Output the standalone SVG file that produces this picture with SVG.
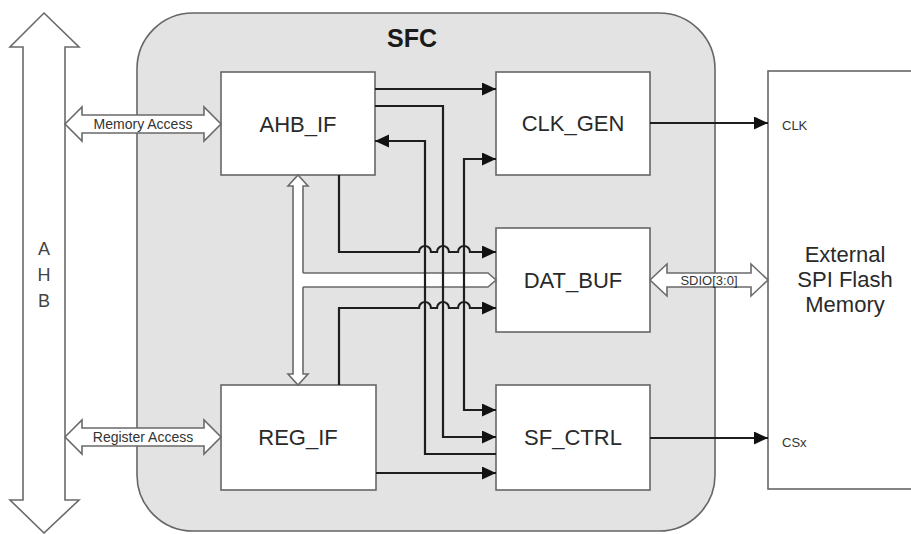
<svg xmlns="http://www.w3.org/2000/svg" width="911" height="534" viewBox="0 0 911 534">
<style>
.box{fill:#fff;stroke:#666;stroke-width:1.6}
.hollow{fill:#fff;stroke:#6a6a6a;stroke-width:1.6;stroke-linejoin:miter}
.lbl{font-family:"Liberation Sans",Arial,sans-serif;font-size:22px;fill:#2a2a2a;text-anchor:middle}
.small{font-family:"Liberation Sans",Arial,sans-serif;font-size:14px;fill:#333;text-anchor:middle}
.pin{font-family:"Liberation Sans",Arial,sans-serif;font-size:13px;fill:#333}
.wire{fill:none;stroke:#1e1e1e;stroke-width:2.2}
</style>
<defs>
<marker id="ah" markerUnits="userSpaceOnUse" markerWidth="15" markerHeight="14" refX="14" refY="6.5" orient="auto-start-reverse">
<path d="M0,0 L14,6.5 L0,13 z" fill="#111"/>
</marker>
</defs>
<rect width="911" height="534" fill="#fff"/>

<g id="sfc">
<rect x="137" y="13" width="578" height="518" rx="56" ry="56" fill="#e3e3e3" stroke="#666" stroke-width="1.6"/>
<text x="412" y="47" font-family="'Liberation Sans',Arial,sans-serif" font-size="25" font-weight="bold" fill="#1a1a1a" text-anchor="middle">SFC</text>
</g>

<g id="ahb">
<polygon class="hollow" points="44,13 79,47 65,47 65,500 79,500 44,533 10,500 23,500 23,47 10,47"/>
<text x="44" y="255" font-family="'Liberation Sans',Arial,sans-serif" font-size="18" fill="#444" text-anchor="middle">A</text>
<text x="44" y="281" font-family="'Liberation Sans',Arial,sans-serif" font-size="18" fill="#444" text-anchor="middle">H</text>
<text x="44" y="307" font-family="'Liberation Sans',Arial,sans-serif" font-size="18" fill="#444" text-anchor="middle">B</text>
</g>

<g id="external">
<rect class="box" x="768" y="71" width="160" height="418"/>
<text class="lbl" x="845" y="262">External</text>
<text class="lbl" x="845" y="287">SPI Flash</text>
<text class="lbl" x="845" y="312">Memory</text>
<text class="pin" x="782" y="130">CLK</text>
<text class="pin" x="782" y="447">CSx</text>
</g>

<g id="ahb_if">
<rect class="box" x="221" y="72" width="154" height="103"/>
<text class="lbl" x="298" y="132">AHB_IF</text>
</g>
<g id="clk_gen">
<rect class="box" x="496" y="72" width="154" height="103"/>
<text class="lbl" x="573" y="131">CLK_GEN</text>
</g>
<g id="dat_buf">
<rect class="box" x="496" y="228" width="154" height="104"/>
<text class="lbl" x="573" y="288">DAT_BUF</text>
</g>
<g id="reg_if">
<rect class="box" x="221" y="385" width="155" height="105"/>
<text class="lbl" x="298" y="445">REG_IF</text>
</g>
<g id="sf_ctrl">
<rect class="box" x="496" y="385" width="154" height="105"/>
<text class="lbl" x="573" y="445">SF_CTRL</text>
</g>

<g id="connectors">
<!-- bus arrows -->
<polygon class="hollow" points="65,124 82,107 82,115 204,115 204,107 221,124 204,141 204,133 82,133 82,141"/>
<text class="small" x="143" y="129">Memory Access</text>
<polygon class="hollow" points="65,437 82,420 82,428 204,428 204,420 221,437 204,454 204,446 82,446 82,454"/>
<text class="small" x="143" y="442">Register Access</text>
<polygon class="hollow" points="650,280 667,264 667,273 751,273 751,264 768,280 751,296 751,287 667,287 667,296"/>
<text class="pin" x="709" y="285" text-anchor="middle">SDIO[3:0]</text>
<polygon class="hollow" points="298,175 308,186 303,186 303,374 308,374 298,385 288,374 293,374 293,186 288,186"/>
<polygon points="302,273 488,273 496,280 488,287 302,287" fill="#fff"/>
<path d="M303,273 H488 L496,280 L488,287 H303" fill="none" stroke="#6a6a6a" stroke-width="1.6"/>

<!-- wires -->
<path class="wire" d="M375,89 H496" marker-end="url(#ah)"/>
<path class="wire" d="M375,106 H443 V437 H496" marker-end="url(#ah)"/>
<path class="wire" d="M496,454 H425 V141 H375" marker-end="url(#ah)"/>
<path class="wire" d="M496,159 H464 V410 H496" marker-start="url(#ah)" marker-end="url(#ah)"/>
<path class="wire" d="M339,175 V252 H419 a6,6 0 0 1 12,0 H437 a6,6 0 0 1 12,0 H458 a6,6 0 0 1 12,0 H496" marker-end="url(#ah)"/>
<path class="wire" d="M339,385 V308 H419 a6,6 0 0 1 12,0 H437 a6,6 0 0 1 12,0 H458 a6,6 0 0 1 12,0 H496" marker-end="url(#ah)"/>
<path class="wire" d="M376,473 H496" marker-end="url(#ah)"/>
<path class="wire" d="M650,123 H768" marker-end="url(#ah)"/>
<path class="wire" d="M650,438 H768" marker-end="url(#ah)"/>
</g>
</svg>
